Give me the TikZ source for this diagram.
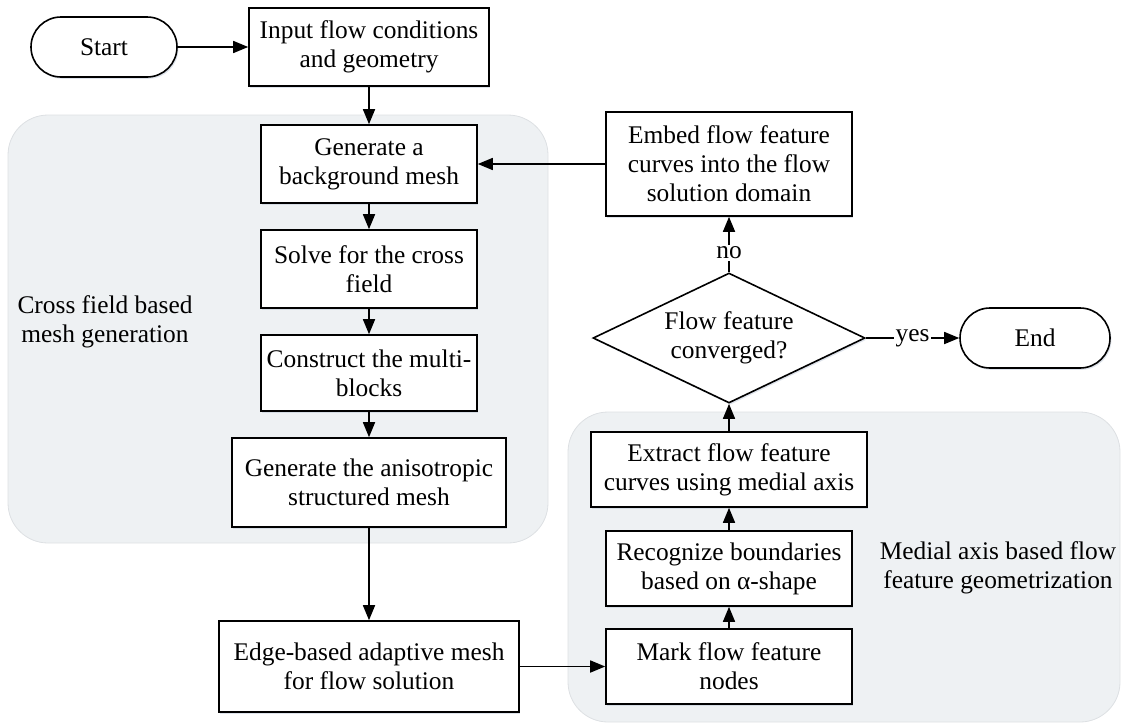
\documentclass[tikz,border=0pt]{standalone}
\usepackage{fontspec}
\setmainfont{Liberation Serif}
\usetikzlibrary{arrows.meta,shapes.geometric,shadows}

\definecolor{zonefill}{RGB}{238,241,243}
\definecolor{zoneline}{RGB}{221,224,227}
\definecolor{shadowcol}{RGB}{190,200,215}

\tikzset{
  every node/.append style={font=\fontsize{12.7}{14.5}\selectfont},
  box/.style={draw, thick, fill=white, align=center, inner sep=2pt,
    drop shadow={shadow xshift=0.7pt, shadow yshift=-0.9pt, opacity=0.5, fill=shadowcol}},
  terminal/.style={box, rounded corners=15pt, minimum width=73pt, minimum height=30pt},
  decision/.style={box, diamond, inner sep=0pt, aspect=2.1, minimum width=136pt, minimum height=65pt},
  zone/.style={fill=zonefill, draw=zoneline, rounded corners=20pt},
  flow/.style={-{Triangle[length=7.5pt,width=6pt]}, thick},
}

\begin{document}
\begin{tikzpicture}[x=0.5pt,y=-0.5pt]
    \useasboundingbox (0,0) rectangle (1123,724);

    % Shaded zones
    \draw[zone] (8,115) rectangle (548,543);
    \draw[zone] (568,412) rectangle (1120,722);
    \node[align=center] (zonemesh) at (105,322) {Cross field based\\mesh generation};
    \node[align=center] (zonegeom) at (998,568) {Medial axis based flow\\feature geometrization};

    % Start and input
    \node[terminal] (start) at (104,47) {Start};
    \node[box, minimum width=120pt, minimum height=39pt] (input) at (369,47) {Input flow conditions\\and geometry};

    % Mesh generation column
    \node[box, minimum width=108pt, minimum height=39pt] (bgmesh) at (369,164) {Generate a\\background mesh};
    \node[box, minimum width=108pt, minimum height=39pt] (cross) at (369,269) {Solve for the cross\\field};
    \node[box, minimum width=108pt, minimum height=38pt] (blocks) at (369,373) {Construct the multi-\\blocks};
    \node[box, minimum width=137pt, minimum height=44.5pt] (aniso) at (369,482.5) {Generate the anisotropic\\structured mesh};
    \node[box, minimum width=150pt, minimum height=45.5pt] (adapt) at (369,666.5) {Edge-based adaptive mesh\\for flow solution};

    % Feature column
    \node[box, minimum width=123pt, minimum height=37.5pt] (mark) at (729,666.5) {Mark flow feature\\nodes};
    \node[box, minimum width=123pt, minimum height=37.5pt] (alpha) at (729,568.5) {Recognize boundaries\\based on α-shape};
    \node[box, minimum width=138pt, minimum height=37.5pt] (medial) at (729,469.5) {Extract flow feature\\curves using medial axis};
    \node[decision] (conv) at (729,338) {Flow feature\\converged?};
    \node[box, minimum width=123pt, minimum height=52pt] (embed) at (729,164) {Embed flow feature\\curves into the flow\\solution domain};
    \node[terminal, minimum width=75pt] (finish) at (1035,338) {End};

    % Connectors
    \draw[flow] (start) -- (input);
    \draw[flow] (input) -- (bgmesh);
    \draw[flow] (bgmesh) -- (cross);
    \draw[flow] (cross) -- (blocks);
    \draw[flow] (blocks) -- (aniso);
    \draw[flow] (aniso) -- (adapt);
    \draw[flow] (adapt) -- (mark);
    \draw[flow] (mark) -- (alpha);
    \draw[flow] (alpha) -- (medial);
    \draw[flow] (medial) -- (conv);
    \draw[flow] (conv.north) -- node[pos=0.35, fill=white, inner sep=1pt] {no} (embed.south);
    \draw[flow] (conv.east) -- node[fill=white, inner sep=1pt] {yes} (finish.west);
    \draw[flow] (embed.west) -- (bgmesh.east);

\end{tikzpicture}
\end{document}
